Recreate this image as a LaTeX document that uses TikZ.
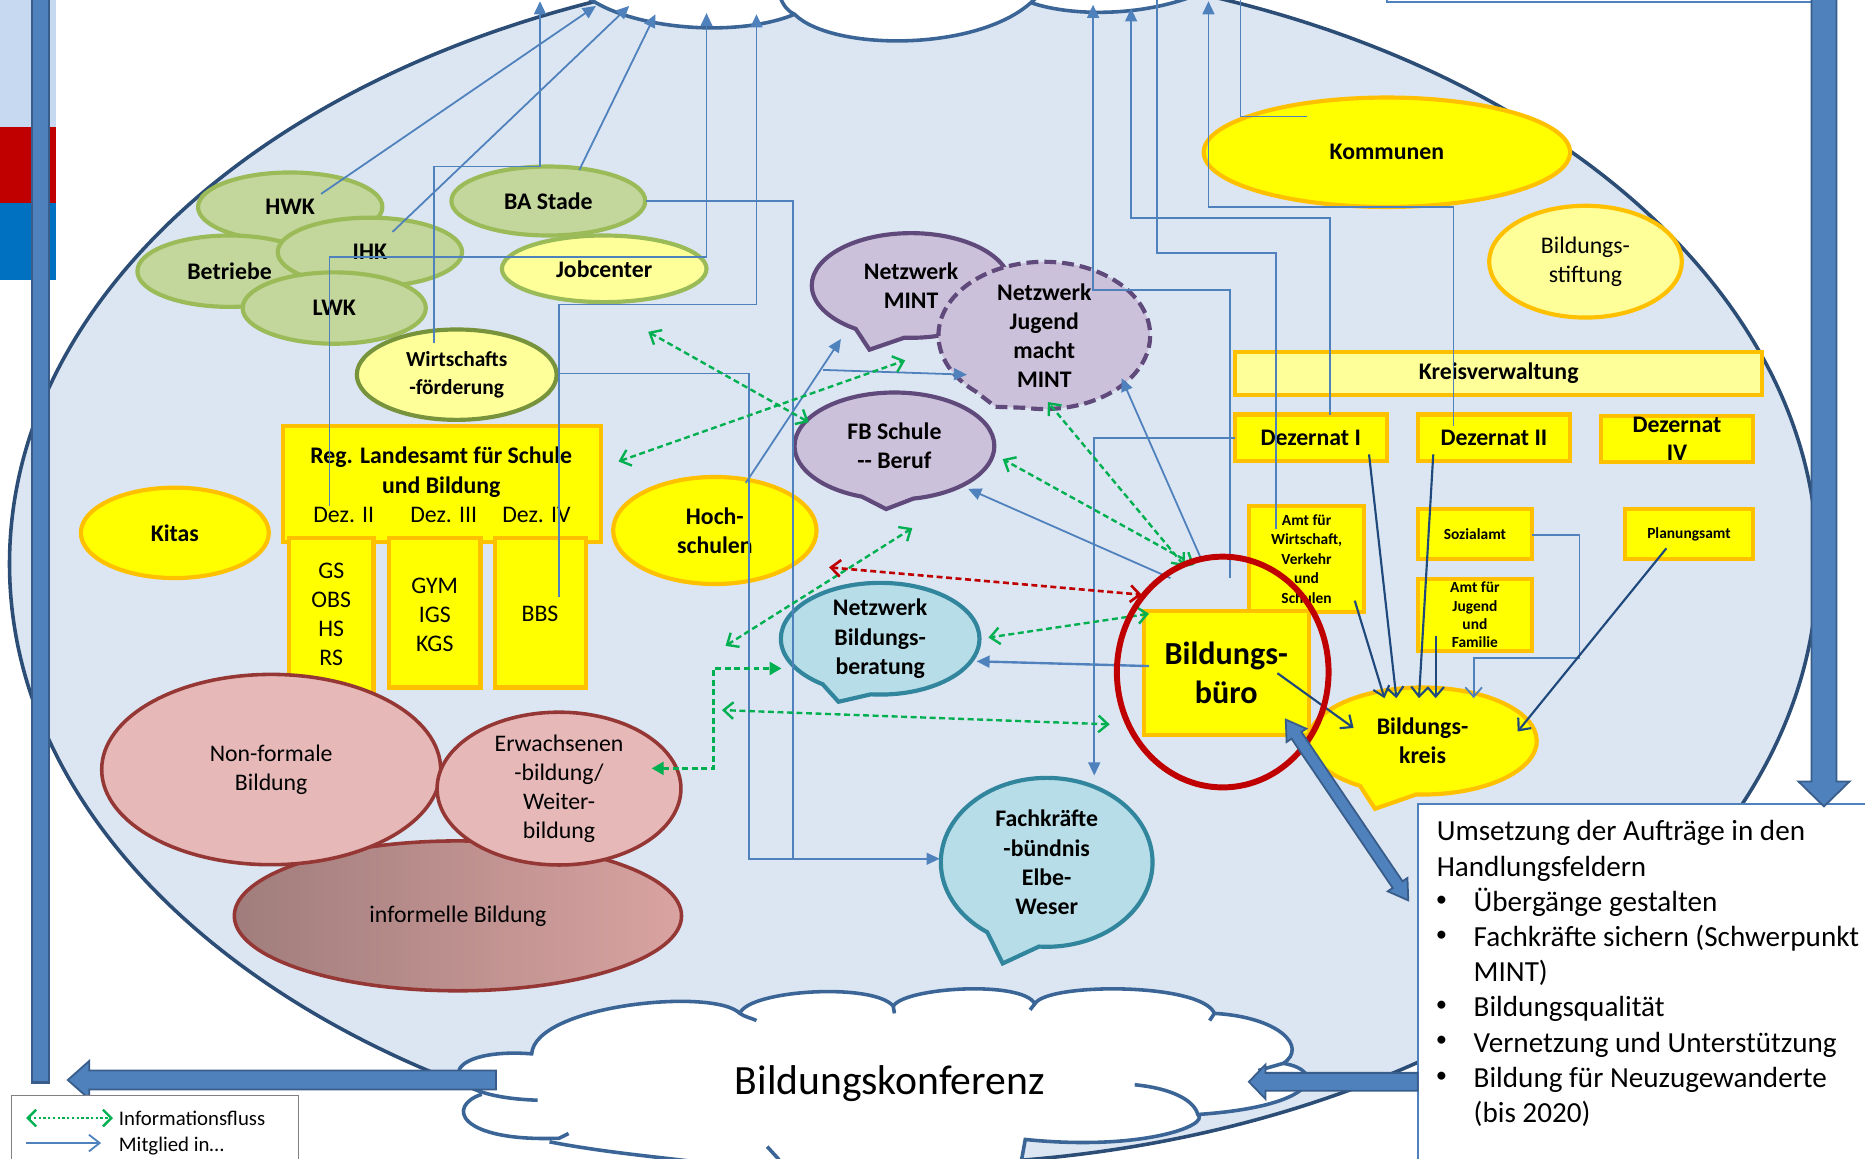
\documentclass[tikz,border=0pt]{standalone}
\usepackage{fontspec}
\setmainfont{Carlito}
\usetikzlibrary{shapes.geometric,shapes.callouts,arrows.meta,calc}
\definecolor{ellfill}{HTML}{DCE6F2}
\definecolor{ellline}{HTML}{2C4D75}
\definecolor{cloudline}{HTML}{3A6596}
\definecolor{conn}{HTML}{4F81BD}
\definecolor{dconn}{HTML}{1F497D}
\definecolor{barline}{HTML}{385D8A}
\definecolor{yel}{HTML}{FFFF00}
\definecolor{yelline}{HTML}{FFC000}
\definecolor{lyel}{HTML}{FFFF99}
\definecolor{gfill}{HTML}{C3D69B}
\definecolor{gline}{HTML}{9BBB59}
\definecolor{dgline}{HTML}{77933C}
\definecolor{pfill}{HTML}{CCC1DA}
\definecolor{pline}{HTML}{604A7B}
\definecolor{bfill}{HTML}{B7DEE8}
\definecolor{bline}{HTML}{31859C}
\definecolor{rfill}{HTML}{E6B9B8}
\definecolor{rline}{HTML}{953735}
\definecolor{infL}{HTML}{A07D7C}
\definecolor{infR}{HTML}{D9A3A1}
\definecolor{redc}{HTML}{C00000}
\definecolor{grn}{HTML}{00B050}
\definecolor{bandlb}{HTML}{C6D9F1}
\definecolor{bandb}{HTML}{0070C0}
\newcommand\lblB{\fontsize{20}{24.5}\selectfont\bfseries}
\newcommand\lblR{\fontsize{20}{24.5}\selectfont}
\newcommand\lblS{\fontsize{13}{16.3}\selectfont\bfseries}
\newcommand\umsF{\fontsize{24.5}{29.6}\selectfont}
\tikzset{
 bord/.style={line width=3.5pt},
 gell/.style={ellipse, bord, fill=gfill, draw=gline, font=\lblB},
 yell/.style={ellipse, bord, fill=yel, draw=yelline, font=\lblB},
 lyell/.style={ellipse, bord, fill=lyel, draw=yelline, font=\lblR},
 ybox/.style={rectangle, bord, fill=yel, draw=yelline, font=\lblB},
 pcall/.style={ellipse callout, bord, fill=pfill, draw=pline, font=\lblB, callout pointer arc=30},
 bcall/.style={ellipse callout, bord, fill=bfill, draw=bline, font=\lblB, callout pointer arc=30},
 ycall/.style={ellipse callout, bord, fill=yel, draw=yelline, font=\lblB, callout pointer arc=30},
 pinkell/.style={ellipse, line width=3pt, fill=rfill, draw=rline, font=\lblR},
 mem/.style={conn, line width=1.5pt, -{Triangle[length=11pt,width=10pt]}},
 memln/.style={conn, line width=1.5pt},
 kreis/.style={dconn, line width=1.8pt, -{Straight Barb[length=8pt,width=14pt]}},
 info/.style={grn, line width=2pt, dash pattern=on 5pt off 3pt, {Straight Barb[length=8pt,width=14pt]}-{Straight Barb[length=8pt,width=14pt]}},
 umst/.style={font=\umsF, anchor=base west},
 bul/.style={font=\fontsize{19}{19}\selectfont},
 thick/.style={fill=conn, draw=barline, line width=1.5pt},
 cloudln/.style={cloudline, line width=3pt},
}
\begin{document}
\begin{tikzpicture}[x=1pt,y=-1pt, every node/.style={inner sep=0pt, outer sep=0pt, align=center}]
\useasboundingbox (0,0) rectangle (1568,974);
\clip (0,0) rectangle (1568,974);
% left bands
\fill[bandlb] (0,0) rectangle (47,107);
\fill[redc] (0,107) rectangle (47,171);
\fill[bandb] (0,171) rectangle (47,235);
% main ellipse
\draw[fill=ellfill, draw=ellline, line width=3pt] (768,474) ellipse [x radius=760, y radius=505];
% top-right line
\draw[conn, line width=1.5pt] (1166,-5) -- (1166,2) -- (1523,2);
% top cloud
\path[fill=white] (485,-10) -- (493,-3) .. controls (530,25) and (620,32) .. (668,12) .. controls (700,44) and (830,44) .. (870,1) .. controls (900,14) and (960,14) .. (1005,-4) -- (1010,-10) -- cycle;
\draw[cloudln] (493,-3) .. controls (530,25) and (620,32) .. (668,12);
\draw[cloudln] (656,-2) .. controls (659,5) and (662,9) .. (668,12) .. controls (700,44) and (830,44) .. (872,-3);
\draw[cloudln] (866,2) .. controls (900,14) and (960,14) .. (1005,-4);
% bottom cloud
\path[fill=white] (447,886) .. controls (450,845) and (600,830) .. (622,852)
 .. controls (630,832) and (735,826) .. (751,846)
 .. controls (760,830) and (860,824) .. (870,844)
 .. controls (880,826) and (1010,826) .. (1021,852)
 .. controls (1075,855) and (1100,880) .. (1079,894)
 .. controls (1115,900) and (1110,930) .. (1007,937)
 .. controls (1018,946) and (960,968) .. (862,958)
 -- (855,990) -- (470,990) -- (470,957)
 .. controls (385,960) and (375,930) .. (405,920)
 .. controls (370,905) and (385,882) .. (447,886) -- cycle;
\draw[cloudln] (452,925) .. controls (360,922) and (368,880) .. (447,886)
 .. controls (450,845) and (600,830) .. (622,852) .. controls (626,855) and (632,856) .. (636,858);
\draw[cloudln] (622,852) .. controls (630,832) and (735,826) .. (751,846) -- (752,852);
\draw[cloudln] (751,846) .. controls (760,830) and (860,824) .. (870,844);
\draw[cloudln] (866,849) -- (870,844) .. controls (880,826) and (1010,826) .. (1021,852) -- (1017,858);
\draw[cloudln] (1021,852) .. controls (1075,855) and (1100,880) .. (1079,894) -- (1058,900);
\draw[cloudln] (1079,894) .. controls (1115,900) and (1110,930) .. (1007,937);
\draw[cloudln] (954,912) .. controls (985,915) and (1004,925) .. (1007,937) .. controls (1018,946) and (960,968) .. (862,958) -- (858,980);
\draw[cloudln] (405,920) .. controls (375,930) and (385,960) .. (470,957) -- (478,953);
\draw[cloudln] (462,960) .. controls (540,975) and (610,975) .. (650,990);
\draw[cloudln] (645,964) -- (655,975);
\node[font=\fontsize{35}{40}\selectfont, anchor=base] (konf) at (748,920) {Bildungskonferenz};

% green cluster
\node[gell, minimum width=155, minimum height=58] (hwk) at (244,174) {HWK};
\node[gell, minimum width=155, minimum height=60] (betr) at (193,228) {Betriebe};
\node[gell, minimum width=155, minimum height=58] (ihk) at (311,212) {IHK};
\node[gell, minimum width=154, minimum height=60] (lwk) at (281,259) {LWK};
\node[gell, minimum width=163, minimum height=58] (ba) at (461,169) {BA Stade};
\node[gell, fill=lyel, minimum width=172, minimum height=56] (job) at (508,226) {Jobcenter};
\node[gell, fill=lyel, draw=dgline, minimum width=168, minimum height=76, font=\fontsize{18}{23}\selectfont\bfseries] (wf) at (384,315) {Wirtschafts\\-förderung};

% Landesamt
\node[ybox, minimum width=267, minimum height=98] (rlsb) at (371.5,407) {};
\node[ybox, minimum width=71, minimum height=138] (sb1) at (278.5,521) {};
\node[ybox, minimum width=77, minimum height=126] (sb2) at (365.5,515) {};
\node[ybox, minimum width=77, minimum height=126] (sb3) at (454.5,515) {};
\node[font=\lblB] (rlsbt) at (371,397) {Reg. Landesamt für Schule\\und Bildung};
\node[font=\lblR] (dz2) at (289,433) {Dez. II};
\node[font=\lblR] (dz3) at (373,433) {Dez. III};
\node[font=\lblR] (dz4) at (451,433) {Dez. IV};
\node[font=\lblR] (sb1t) at (278.5,516.5) {GS\\OBS\\HS\\RS};
\node[font=\lblR] (sb2t) at (365.5,517) {GYM\\IGS\\KGS};
\node[font=\lblR] (sb3t) at (454,516) {BBS};

\node[yell, minimum width=158, minimum height=76] (kitas) at (147,448) {Kitas};
\node[yell, minimum width=171, minimum height=90] (hoch) at (601,446) {Hoch-\\schulen};

% pink
\node[pinkell, left color=infL, right color=infR, minimum width=376, minimum height=126] (inf) at (385,770) {informelle Bildung};
\node[pinkell, minimum width=285, minimum height=160] (nfb) at (228,647) {Non-formale\\Bildung};
\node[pinkell, minimum width=205, minimum height=128] (ewb) at (470,663) {Erwachsenen\\-bildung/\\Weiter-\\bildung};

% callouts
\node[pcall, minimum width=167, minimum height=88, callout absolute pointer={(731,294)}] (nmint) at (766,240) {Netzwerk\\MINT};
\node[pcall, dash pattern=on 10pt off 5pt, minimum width=178, minimum height=98, callout absolute pointer={(837,342)}] (njmm) at (878,282) {Netzwerk\\Jugend\\macht\\MINT};
\node[pcall, minimum width=168, minimum height=90, callout absolute pointer={(745,428)}] (fbsb) at (752,375) {FB Schule\\-{}- Beruf};
\node[bcall, minimum width=167, minimum height=86, callout absolute pointer={(705,590)}] (nbb) at (740,537) {Netzwerk\\Bildungs-\\beratung};
\node[bcall, minimum width=178, minimum height=142, callout absolute pointer={(843,810)}] (fkb) at (880,725) {Fachkräfte\\-bündnis\\Elbe-\\Weser};

% right side
\node[yell, minimum width=308, minimum height=92] (komm) at (1166,128) {Kommunen};
\node[lyell, minimum width=162, minimum height=94] (bst) at (1333,220) {Bildungs-\\stiftung};
\node[ybox, fill=lyel, minimum width=443, minimum height=36] (kv) at (1260,314) {Kreisverwaltung};
\node[ybox, minimum width=128, minimum height=39] (dez1) at (1102,368) {Dezernat I};
\node[ybox, minimum width=128, minimum height=39] (dez2) at (1256,368) {Dezernat II};
\node[ybox, minimum width=128, minimum height=39, font=\fontsize{20}{23}\selectfont\bfseries] (dez4) at (1410,369) {Dezernat\\IV};
\node[ybox, font=\lblS, minimum width=97, minimum height=89] (amtw) at (1098.5,470) {Amt für\\Wirtschaft,\\Verkehr\\und\\Schulen};
\node[ybox, font=\lblS, minimum width=96, minimum height=42] (soz) at (1240,449) {Sozialamt};
\node[ybox, font=\fontsize{13}{15.5}\selectfont\bfseries, minimum width=96, minimum height=60] (amtj) at (1240,517) {Amt für\\Jugend\\und\\Familie};
\node[ybox, font=\lblS, minimum width=108, minimum height=42] (plan) at (1420,449) {Planungsamt};
\node[ybox, font=\fontsize{27}{33}\selectfont\bfseries, minimum width=139, minimum height=104] (bb) at (1031,566) {Bildungs-\\büro};
\node[ycall, minimum width=192, minimum height=90, callout absolute pointer={(1156,680)}] (bk) at (1196,623) {Bildungs-\\kreis};

% top targets
\coordinate (t1) at (501,5);
\coordinate (t2) at (529,5);
\coordinate (t3) at (551,12);
\coordinate (t4) at (454,1);
\coordinate (t5) at (594,11);
\coordinate (t6) at (636,12);
\coordinate (t7) at (919,4);
\coordinate (t8) at (951,7);
\coordinate (t9) at (973,-5);
\coordinate (t10) at (1016,1);
\coordinate (t11) at (1043,-5);
% membership connectors
\coordinate (c1) at (270,163); \draw[mem] (c1) -- (t1);
\coordinate (c2) at (330,195); \draw[mem] (c2) -- (t2);
\coordinate (c3) at (487,143); \draw[mem] (c3) -- (t3);
\coordinate (c4) at (365,288); \draw[mem] (c4) -- (365,140) -- (454,140) -- (t4);
\coordinate (c5) at (277,425); \draw[mem] (c5) -- (277,216) -- (594,216) -- (t5);
\coordinate (c6) at (470,502); \draw[mem] (c6) -- (470,256) -- (636,256) -- (t6);
\coordinate (c7) at (543,169); \coordinate (fkIn) at (790,722);
\draw[mem] (c7) -- (667,169) -- (667,722) -- (fkIn);
\coordinate (c8) at (470,314); \draw[memln] (c8) -- (630,314) -- (630,722) -- (667,722);
\coordinate (c9) at (627,406); \coordinate (nmIn) at (707,285); \draw[mem] (c9) -- (nmIn);
\coordinate (c10) at (692,311); \coordinate (njIn) at (813,315); \draw[mem] (c10) -- (njIn);
\coordinate (c11) at (984,486); \coordinate (fbIn) at (814,411); \draw[mem] (c11) -- (fbIn);
\coordinate (c12) at (1009,468); \coordinate (nj2) at (943,318); \draw[mem] (c12) -- (nj2);
\coordinate (c13) at (1034,486); \draw[mem] (c13) -- (1034,244) -- (919,244) -- (t7);
\coordinate (c14) at (1038,368); \coordinate (fkTop) at (920,652); \draw[mem] (c14) -- (920,368) -- (fkTop);
\coordinate (c15) at (1118,349); \draw[mem] (c15) -- (1118,183) -- (951,183) -- (t8);
\coordinate (c16) at (1073,445); \draw[memln] (c16) -- (1073,213) -- (973,213) -- (t9);
\coordinate (c17) at (1222,358); \draw[mem] (c17) -- (1222,174) -- (1016,174) -- (t10);
\coordinate (c18) at (1099,98); \draw[memln] (c18) -- (1043,98) -- (t11);
\coordinate (c19) at (966,560); \coordinate (nbbIn) at (821,556); \draw[mem, line width=2pt] (c19) -- (nbbIn);
% into Bildungskreis
\coordinate (k1) at (1151,382); \coordinate (k1e) at (1174,587); \draw[kreis] (k1) -- (k1e);
\coordinate (k2) at (1205,382); \coordinate (k2e) at (1193,587); \draw[kreis] (k2) -- (k2e);
\coordinate (k3) at (1139,505); \coordinate (k3e) at (1164,587); \draw[kreis] (k3) -- (k3e);
\coordinate (k4) at (1207,535); \coordinate (k4e) at (1207,587); \draw[kreis] (k4) -- (k4e);
\coordinate (k5) at (1288,450); \coordinate (k5e) at (1239,587); \draw[kreis, conn, line width=1.5pt] (k5) -- (1328,450) -- (1328,553) -- (1239,553) -- (k5e);
\coordinate (k6) at (1401,461); \coordinate (k6e) at (1276,615); \draw[kreis] (k6) -- (k6e);
\coordinate (k7) at (1074,566); \coordinate (k7e) at (1138,612); \draw[kreis] (k7) -- (k7e);
% information flow
\coordinate (g1a) at (545,279); \coordinate (g1b) at (680,355); \draw[info] (g1a) -- (g1b);
\coordinate (g2a) at (520,388); \coordinate (g2b) at (761,303); \draw[info] (g2a) -- (g2b);
\coordinate (g3a) at (1004,475); \coordinate (g3b) at (843,386); \draw[info] (g3a) -- (g3b);
\coordinate (g4a) at (996,476); \coordinate (g4b) at (881,338); \draw[info] (g4a) -- (g4b);
\coordinate (g5a) at (966,516); \coordinate (g5b) at (831,536); \draw[info] (g5a) -- (g5b);
\coordinate (g6a) at (933,609); \coordinate (g6b) at (607,597); \draw[info] (g6a) -- (g6b);
\coordinate (g7a) at (610,543); \coordinate (g7b) at (767,444); \draw[info] (g7a) -- (g7b);
\coordinate (g8a) at (548,646); \coordinate (g8b) at (657,562);
\draw[grn, line width=2pt, dash pattern=on 5pt off 3pt, {Triangle[length=10pt,width=11pt]}-{Triangle[length=10pt,width=11pt]}] (g8a) -- (600,646) -- (600,562) -- (g8b);
\coordinate (r1a) at (697,477); \coordinate (r1b) at (960,500);
\draw[redc, line width=2.2pt, dash pattern=on 5pt off 3pt, {Straight Barb[length=8pt,width=14pt]}-{Straight Barb[length=8pt,width=14pt]}] (r1a) -- (r1b);

% red ring
\node[ellipse, draw=redc, line width=5pt, minimum width=178, minimum height=194] (ring) at (1028,565) {};

% Umsetzung box
\node[draw=conn, fill=white, line width=1.5pt, minimum width=420, minimum height=340, anchor=north west] (ums) at (1192,676) {};
\node[umst] (u1) at (1208,707) {Umsetzung der Aufträge in den};
\node[umst] (u2) at (1208,736.6) {Handlungsfeldern};
\node[bul] (b3) at (1212,757.5) {•};
\node[umst] (u3) at (1239,766.2) {Übergänge gestalten};
\node[bul] (b4) at (1212,787.1) {•};
\node[umst] (u4) at (1239,795.8) {Fachkräfte sichern (Schwerpunkt};
\node[umst] (u5) at (1239,825.4) {MINT)};
\node[bul] (b6) at (1212,846.3) {•};
\node[umst] (u6) at (1239,855) {Bildungsqualität};
\node[bul] (b7) at (1212,875.9) {•};
\node[umst] (u7) at (1239,884.6) {Vernetzung und Unterstützung};
\node[bul] (b8) at (1212,905.5) {•};
\node[umst] (u8) at (1239,914.2) {Bildung für Neuzugewanderte};
\node[umst] (u9) at (1239,943.8) {(bis 2020)};

% thick arrows
\filldraw[thick, line width=2pt] (27,-5) rectangle (41,910);
\filldraw[thick] (1523,-5) -- (1544,-5) -- (1544,657) -- (1555,657) -- (1533.5,678) -- (1512,657) -- (1523,657) -- cycle;
\filldraw[thick] (417,900) -- (75,900) -- (75,892) -- (57,908) -- (75,924) -- (75,916) -- (417,916) -- cycle;
\filldraw[thick] (1192,902) -- (1064,902) -- (1064,895) -- (1050,909.5) -- (1064,924) -- (1064,917) -- (1192,917) -- cycle;
\coordinate (da) at (1081,605); \coordinate (db) at (1184,757);
\coordinate (da1) at ($(da)!16pt!(db)$); \coordinate (db1) at ($(db)!16pt!(da)$);
\filldraw[thick] (da) -- ($(da1)!10pt!90:(db)$) -- ($(da1)!5pt!90:(db)$) -- ($(db1)!5pt!-90:(da)$) -- ($(db1)!10pt!-90:(da)$) -- (db) -- ($(db1)!10pt!90:(da)$) -- ($(db1)!5pt!90:(da)$) -- ($(da1)!5pt!-90:(db)$) -- ($(da1)!10pt!-90:(db)$) -- cycle;

% legend
\node[draw=gray, fill=white, line width=1pt, minimum width=241, minimum height=60, anchor=north west] (leg) at (10,921) {};
\coordinate (lg1) at (22,940); \coordinate (lg2) at (95,940);
\draw[grn, line width=2pt, dotted, {Straight Barb[length=7pt,width=14pt]}-{Straight Barb[length=7pt,width=14pt]}] (lg1) -- (lg2);
\node[font=\fontsize{17.5}{20}\selectfont, anchor=base west] (legt1) at (100,946) {Informationsfluss};
\coordinate (lg3) at (22,961); \coordinate (lg4) at (85,961);
\draw[conn, line width=1.5pt, -{Straight Barb[length=9pt,width=14pt]}] (lg3) -- (lg4);
\node[font=\fontsize{17.5}{20}\selectfont, anchor=base west] (legt2) at (100,968) {Mitglied in…};
\end{tikzpicture}
\end{document}
